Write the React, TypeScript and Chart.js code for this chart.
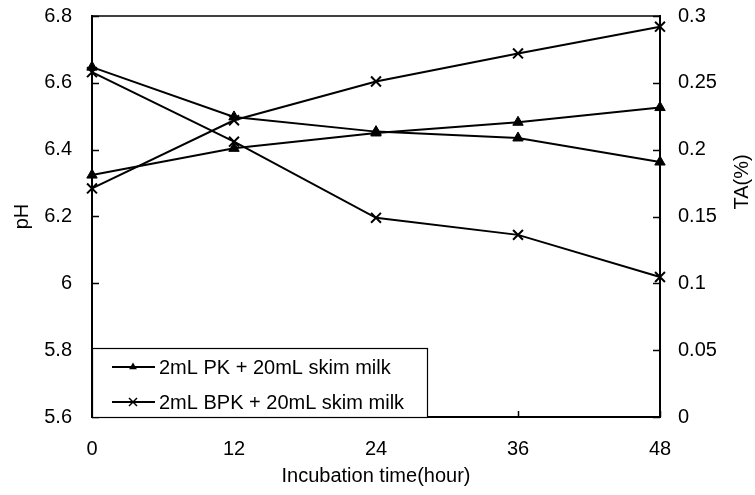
import React, { useEffect, useRef } from "react";
import { Chart, registerables } from "chart.js";

Chart.register(...registerables);

const HOURS = ["0", "12", "24", "36", "48"];
const PK_PH = [6.647, 6.498, 6.454, 6.435, 6.363];
const PK_TA = [0.181, 0.201, 0.2125, 0.2205, 0.2315];
const BPK_PH = [6.632, 6.424, 6.196, 6.145, 6.019];
const BPK_TA = [0.171, 0.222, 0.251, 0.272, 0.292];
const PH_TICKS = [5.6, 5.8, 6.0, 6.2, 6.4, 6.6, 6.8];
const TA_TICKS = [0, 0.05, 0.1, 0.15, 0.2, 0.25, 0.3];
const LEGEND_LABELS = ["2mL PK + 20mL skim milk", "2mL BPK + 20mL skim milk"];
const X_TITLE = "Incubation time(hour)";
const Y_TITLE = "pH";
const Y2_TITLE = "TA(%)";

const FONT = "'Liberation Sans', Arial, sans-serif";

const fmt = (v: number) => String(Number(Number(v).toFixed(2)));

const extras = {
  id: "extras",
  afterDraw(chart: any) {
    const ctx = chart.ctx;
    const { left, right, top, bottom } = chart.chartArea;
    ctx.save();
    ctx.strokeStyle = "#000";
    ctx.fillStyle = "#000";
    // top border
    ctx.lineWidth = 1.5;
    ctx.beginPath();
    ctx.moveTo(left, top);
    ctx.lineTo(right, top);
    ctx.stroke();
    // inner tick marks
    ctx.lineWidth = 1.5;
    const yl = chart.scales.y;
    const yr = chart.scales.y2;
    const xs = chart.scales.x;
    yl.ticks.forEach((t: any) => {
      const py = Math.round(yl.getPixelForValue(t.value)) + 0.5;
      ctx.beginPath();
      ctx.moveTo(left, py);
      ctx.lineTo(left + 7, py);
      ctx.stroke();
    });
    yr.ticks.forEach((t: any) => {
      const py = Math.round(yr.getPixelForValue(t.value)) + 0.5;
      ctx.beginPath();
      ctx.moveTo(right - 7, py);
      ctx.lineTo(right, py);
      ctx.stroke();
    });
    xs.ticks.forEach((t: any, i: number) => {
      const px = Math.round(xs.getPixelForTick(i)) + 0.5;
      ctx.beginPath();
      ctx.moveTo(px, bottom);
      ctx.lineTo(px, bottom - 6);
      ctx.stroke();
    });
    // right axis title (reads bottom-to-top)
    ctx.font = `20px ${FONT}`;
    ctx.textAlign = "center";
    ctx.textBaseline = "middle";
    ctx.save();
    ctx.translate(742, 182);
    ctx.rotate(-Math.PI / 2);
    ctx.fillText(Y2_TITLE, 0, 0);
    ctx.restore();
    // legend box
    const bx = left, by = 348, bw = 335, bh = bottom - 348;
    ctx.fillStyle = "#fff";
    ctx.fillRect(bx, by, bw, bh);
    ctx.fillStyle = "#000";
    ctx.lineWidth = 1.2;
    ctx.strokeRect(bx + 0.5, by + 0.5, bw, bh);
    const rows = [367, 402];
    rows.forEach((ry, i) => {
      ctx.lineWidth = 2;
      ctx.beginPath();
      ctx.moveTo(112, ry);
      ctx.lineTo(155, ry);
      ctx.stroke();
      const cx = 133;
      if (i === 0) {
        const r = 4.5;
        ctx.beginPath();
        ctx.moveTo(cx, ry - r);
        ctx.lineTo(cx + r * 0.866, ry + r * 0.5);
        ctx.lineTo(cx - r * 0.866, ry + r * 0.5);
        ctx.closePath();
        ctx.fill();
      } else {
        const h = 4;
        ctx.lineWidth = 1.5;
        ctx.beginPath();
        ctx.moveTo(cx - h, ry - h);
        ctx.lineTo(cx + h, ry + h);
        ctx.moveTo(cx - h, ry + h);
        ctx.lineTo(cx + h, ry - h);
        ctx.stroke();
      }
      ctx.textAlign = "left";
      ctx.textBaseline = "middle";
      ctx.fillText(LEGEND_LABELS[i], 159, ry + 1);
    });
    ctx.restore();
  },
};

export default function App() {
  const ref = useRef<HTMLCanvasElement>(null);
  useEffect(() => {
    if (!ref.current) return;
    Chart.defaults.color = "#000";
    Chart.defaults.font.family = FONT;
    Chart.defaults.font.size = 20;
    const base = {
      borderColor: "#000",
      backgroundColor: "#000",
      pointBackgroundColor: "#000",
      pointBorderColor: "#000",
      borderWidth: 2,
      fill: false,
      tension: 0,
    };
    const tri = { pointStyle: "triangle", pointRadius: 6, pointBorderWidth: 1 };
    const crs = { pointStyle: "crossRot", pointRadius: 7, pointBorderWidth: 2 };
    const chart = new Chart(ref.current, {
      type: "line",
      data: {
        labels: HOURS,
        datasets: [
          { label: LEGEND_LABELS[0] + " pH", data: PK_PH, yAxisID: "y", ...base, ...tri },
          { label: LEGEND_LABELS[0] + " TA", data: PK_TA, yAxisID: "y2", ...base, ...tri },
          { label: LEGEND_LABELS[1] + " pH", data: BPK_PH, yAxisID: "y", ...base, ...crs },
          { label: LEGEND_LABELS[1] + " TA", data: BPK_TA, yAxisID: "y2", ...base, ...crs },
        ] as any,
      },
      options: {
        responsive: false,
        animation: false,
        layout: { padding: { top: 0, left: 0, right: 0, bottom: 0 } },
        plugins: { legend: { display: false }, tooltip: { enabled: false } },
        scales: {
          x: {
            type: "category",
            offset: false,
            grid: { display: false },
            border: { display: true, color: "#000", width: 2 },
            ticks: { padding: 12, maxRotation: 0, autoSkip: false },
            title: { display: true, text: X_TITLE, padding: { top: 0, bottom: 7 } },
            afterFit: (s: any) => { s.height = 78; },
          },
          y: {
            type: "linear",
            position: "left",
            min: 5.6,
            max: 6.8,
            grid: { display: false, tickLength: 16 },
            border: { display: true, color: "#000", width: 2 },
            afterBuildTicks: (s: any) => { s.ticks = PH_TICKS.map((v) => ({ value: v })); },
            ticks: { padding: 4, callback: (v: any) => fmt(v) },
            title: { display: true, text: Y_TITLE, padding: { top: 10, bottom: 0 } },
            afterFit: (s: any) => { s.width = 92; },
          },
          y2: {
            type: "linear",
            position: "right",
            min: 0,
            max: 0.3,
            grid: { display: false, tickLength: 14 },
            border: { display: true, color: "#000", width: 2 },
            afterBuildTicks: (s: any) => { s.ticks = TA_TICKS.map((v) => ({ value: v })); },
            ticks: { padding: 4, callback: (v: any) => fmt(v) },
            afterFit: (s: any) => { s.width = 95; },
          },
        },
      } as any,
      plugins: [extras],
    });
    return () => chart.destroy();
  }, []);
  return (
    <div style={{ position: "absolute", left: 0, top: 0, width: 755, height: 495, background: "#fff" }}>
      <canvas ref={ref} width={755} height={495} />
    </div>
  );
}
